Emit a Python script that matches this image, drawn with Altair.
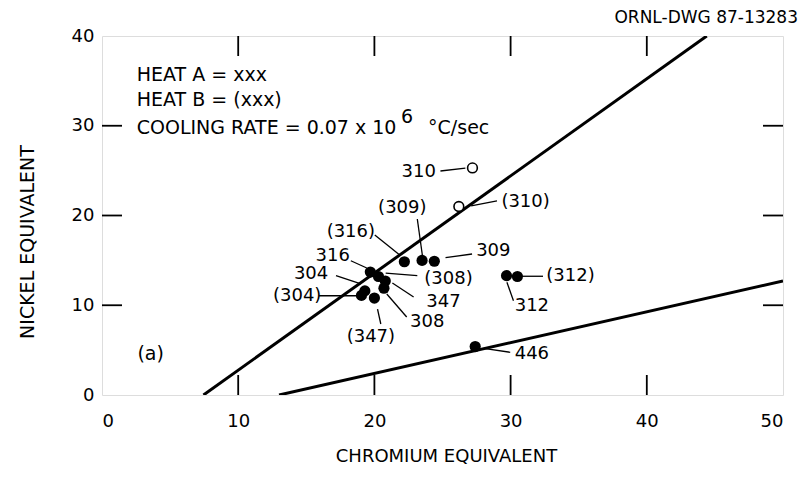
import altair as alt
import pandas as pd

FONT = "DejaVu Sans"

# ---- data ----
heat_labels = ["316", "(308)", "347", "308", "304", "(304)", "(347)",
               "(316)", "(309)", "309", "312", "(312)", "446"]
filled_cr = [19.7, 20.3, 20.8, 20.7, 19.3, 19.05, 20.0,
             22.2, 23.5, 24.4, 29.7, 30.5, 27.4]
filled_ni = [13.7, 13.2, 12.7, 11.9, 11.6, 11.1, 10.8,
             14.85, 15.0, 14.9, 13.3, 13.2, 5.4]

open_labels = ["310", "(310)"]
open_cr = [27.2, 26.2]
open_ni = [25.3, 21.0]

# point-label text positions
lab_text = ["310", "(310)", "(309)", "(316)", "309", "316", "304", "(304)",
            "(308)", "347", "308", "(347)", "(312)", "312", "446"]
lab_x = [23.25, 31.1, 22.05, 18.27, 28.73, 16.94, 15.35, 14.33,
         25.44, 25.07, 23.88, 19.74, 34.4, 31.56, 31.56]
lab_y = [24.85, 21.5, 20.8, 18.13, 16.08, 15.52, 13.48, 11.03,
         12.92, 10.36, 8.10, 6.46, 13.26, 9.95, 4.57]

# leader lines (start -> end)
lead_x1 = [24.85, 27.1, 23.15, 20.03, 25.22, 18.27, 17.18, 15.94,
           20.83, 21.32, 20.91, 20.23, 30.83, 29.73, 28.02]
lead_y1 = [24.96, 21.06, 19.61, 17.83, 15.3, 14.96, 13.29, 11.06,
           13.59, 12.48, 11.25, 9.58, 13.23, 12.56, 5.2]
lead_x2 = [26.68, 29.0, 23.52, 21.86, 27.17, 19.44, 19.01, 18.76,
           23.15, 22.88, 22.37, 20.47, 32.38, 30.21, 29.97]
lead_y2 = [25.29, 21.62, 15.6, 15.6, 15.71, 14.15, 12.37, 11.06,
           13.29, 10.92, 8.69, 7.91, 13.23, 10.51, 4.76]

# boundary lines
line_id = ["upper", "upper", "lower", "lower"]
line_cr = [7.45, 44.4, 13.0, 50.0]
line_ni = [0.0, 40.0, 0.0, 12.7]

x_ticks = [10, 20, 30, 40]
y_ticks = [10, 20, 30]

# ---- tables ----
filled_df = pd.DataFrame({"cr": filled_cr, "ni": filled_ni, "heat": heat_labels})
open_df = pd.DataFrame({"cr": open_cr, "ni": open_ni, "heat": open_labels})
lab_df = pd.DataFrame({"t": lab_text, "x": lab_x, "y": lab_y})
lead_df = pd.DataFrame({"x1": lead_x1, "y1": lead_y1, "x2": lead_x2, "y2": lead_y2})
line_df = pd.DataFrame({"id": line_id, "cr": line_cr, "ni": line_ni})
xt_df = pd.DataFrame({"v": x_ticks})
yt_df = pd.DataFrame({"v": y_ticks})

W, H = 681, 359
xs = alt.Scale(domain=[0, 50], nice=False, zero=False)
ys = alt.Scale(domain=[0, 40], nice=False, zero=False)

x_axis = alt.Axis(values=[0, 10, 20, 30, 40, 50], ticks=False, domain=False, grid=False,
                  labelFontSize=18, labelFont=FONT, labelColor="black", labelPadding=17,
                  title=None)
y_axis = alt.Axis(values=[0, 10, 20, 30, 40], ticks=False, domain=False, grid=False,
                  labelFontSize=18, labelFont=FONT, labelColor="black", labelPadding=8,
                  title=None)

X = lambda f: alt.X(f, type="quantitative", scale=xs, axis=x_axis)
Y = lambda f: alt.Y(f, type="quantitative", scale=ys, axis=y_axis)

lines = alt.Chart(line_df).mark_line(color="black", strokeWidth=3, clip=True).encode(
    x=X("cr"), y=Y("ni"), detail="id:N")

leaders = alt.Chart(lead_df).mark_rule(color="black", strokeWidth=1.3).encode(
    x=X("x1"), y=Y("y1"), x2="x2:Q", y2="y2:Q")

filled = alt.Chart(filled_df).mark_point(shape="circle", filled=True, color="black",
                                         size=125, opacity=1).encode(
    x=X("cr"), y=Y("ni"))

opened = alt.Chart(open_df).mark_point(shape="circle", filled=True, fill="white",
                                       stroke="black", strokeWidth=1.6, size=95,
                                       opacity=1).encode(
    x=X("cr"), y=Y("ni"))

labels = alt.Chart(lab_df).mark_text(font=FONT, fontSize=18, color="black",
                                     align="center", baseline="middle").encode(
    x=X("x"), y=Y("y"), text="t:N")

# inward ticks
tb = alt.Chart(xt_df).mark_rule(color="black", strokeWidth=1.8).encode(
    x=X("v"), y=alt.value(H), y2=alt.value(H - 20))
tt = alt.Chart(xt_df).mark_rule(color="black", strokeWidth=1.8).encode(
    x=X("v"), y=alt.value(0), y2=alt.value(20))
tl = alt.Chart(yt_df).mark_rule(color="black", strokeWidth=1.8).encode(
    y=Y("v"), x=alt.value(0), x2=alt.value(20))
tr = alt.Chart(yt_df).mark_rule(color="black", strokeWidth=1.8).encode(
    y=Y("v"), x=alt.value(W), x2=alt.value(W - 20))

# annotation texts (in data coordinates)
note_df = pd.DataFrame({
    "t": ["HEAT A = xxx", "HEAT B = (xxx)", "COOLING RATE = 0.07 x 10", "°C/sec", "(a)"],
    "x": [2.55, 2.55, 2.55, 23.94, 2.6],
    "y": [35.7, 32.9, 29.7, 29.7, 4.6],
})
notes = alt.Chart(note_df).mark_text(font=FONT, fontSize=19, color="black",
                                     align="left", baseline="middle").encode(
    x=X("x"), y=Y("y"), text="t:N")
sup_df = pd.DataFrame({"t": ["6"], "x": [21.95], "y": [31.0]})
sup = alt.Chart(sup_df).mark_text(font=FONT, fontSize=19, color="black",
                                  align="left", baseline="middle").encode(
    x=X("x"), y=Y("y"), text="t:N")

# titles
dwg = alt.Chart(pd.DataFrame({"t": ["ORNL-DWG 87-13283"]})).mark_text(
    font=FONT, fontSize=17, color="black", align="right", baseline="middle").encode(
    x=alt.value(W + 15), y=alt.value(-18), text="t:N")
xtitle = alt.Chart(pd.DataFrame({"t": ["CHROMIUM EQUIVALENT"]})).mark_text(
    font=FONT, fontSize=18, color="black", align="center", baseline="middle").encode(
    x=alt.value(W / 2 + 4), y=alt.value(H + 62), text="t:N")
ytitle = alt.Chart(pd.DataFrame({"t": ["NICKEL EQUIVALENT"]})).mark_text(
    font=FONT, fontSize=19, color="black", align="center", baseline="middle",
    angle=270).encode(
    x=alt.value(-74), y=alt.value(206), text="t:N")

chart = alt.layer(lines, leaders, filled, opened, labels, tb, tt, tl, tr, notes, sup,
                  dwg, xtitle, ytitle).properties(
    width=W, height=H,
    autosize=alt.AutoSizeParams(type="none"),
    padding={"left": 94, "top": 28, "right": 17, "bottom": 74},
).configure_view(stroke="black", strokeWidth=2.2).configure(background="white")

chart.save("out.html", embed_options={"renderer": "svg", "actions": False})
